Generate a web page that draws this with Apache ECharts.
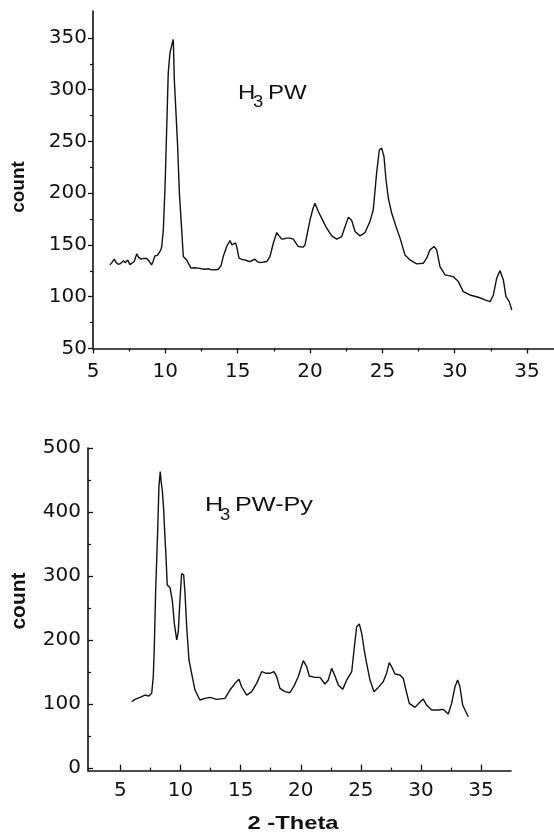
<!DOCTYPE html>
<html><head><meta charset="utf-8">
<script src="https://cdn.jsdelivr.net/npm/echarts@6/dist/echarts.min.js"></script>
<style>html,body{margin:0;padding:0;background:#fff}#c{width:554px;height:834px}</style>
</head><body><div id="c"></div>
<script>
// ---- H3PW (top panel) ----
const topTheta = [6.17,6.3,6.47,6.6,6.75,6.9,7.1,7.25,7.4,7.55,7.67,7.85,8.02,8.15,8.32,8.5,8.71,8.9,9.05,9.15,9.28,9.45,9.56,9.68,9.75,9.86,9.98,10.09,10.2,10.32,10.48,10.55,10.62,10.72,10.85,10.97,11.13,11.24,11.47,11.77,12.0,12.28,12.5,12.74,13.0,13.2,13.45,13.66,13.85,14.0,14.24,14.47,14.6,14.7,14.85,14.93,15.09,15.3,15.5,15.7,15.85,16.0,16.19,16.35,16.54,16.8,17.0,17.23,17.46,17.7,17.85,18.04,18.2,18.39,18.61,18.84,18.96,19.19,19.31,19.53,19.65,20.0,20.2,20.34,20.57,20.92,21.15,21.5,21.84,22.19,22.42,22.65,22.88,23.11,23.45,23.8,24.14,24.37,24.6,24.79,24.95,25.11,25.25,25.41,25.64,25.94,26.22,26.56,26.91,27.37,27.83,28.06,28.29,28.57,28.75,28.98,29.33,29.9,30.25,30.59,31.05,31.63,32.09,32.44,32.67,32.9,33.13,33.36,33.54,33.77,33.94];
const topCount = [130.8,133,136.3,133,131.4,132,134.6,133,135.6,131,129.1,134,141.4,138,136.3,137,136.9,134,130.8,134,139.5,140,141.4,145,148.5,164.6,206.5,261.3,316.2,335.5,345.2,348.4,309.7,308,245.2,200.1,164.6,138.8,135.6,127.6,128,127.6,127,126.6,127,125.9,126,126.6,130,138.8,148.5,154.3,150,149.1,152,148.5,137.2,136,135.6,134.5,134,135,136.3,134,133,133.5,134,138.8,151.7,162,159,155.6,156,156.6,156.6,155.6,155,148.5,147.9,147.9,150.1,174.3,185,190.4,182.3,172.6,166.2,158.8,155.6,158.1,167.8,176.9,173.6,163,158.8,162,172.6,184,219.4,242,243.6,235.5,213,195.3,180.8,167.8,156.6,140.4,135.6,131.7,132.4,137.2,145.3,148.5,145.3,129.1,121.1,119.4,114.6,104.9,101.7,99.5,96.9,95.3,101.7,117.9,125.2,116.2,100.1,95.3,87.2];

// ---- H3PW-Py (bottom panel) ----
const botTheta = [5.93,6.21,6.62,7.04,7.37,7.6,7.73,7.81,7.93,8.09,8.2,8.31,8.4,8.48,8.59,8.7,8.79,8.89,9.0,9.12,9.31,9.48,9.68,9.81,9.95,10.09,10.26,10.37,10.51,10.7,10.92,11.2,11.61,12.03,12.45,13.0,13.69,14.11,14.53,14.86,15.08,15.5,15.92,16.33,16.75,17.16,17.44,17.77,18.0,18.27,18.69,19.1,19.43,19.79,20.21,20.49,20.71,21.18,21.6,22.01,22.29,22.57,22.85,23.12,23.49,23.82,24.24,24.43,24.65,24.87,25.07,25.28,25.48,25.76,26.09,26.45,26.86,27.14,27.36,27.56,27.84,28.25,28.53,28.75,29.03,29.5,29.86,30.19,30.47,30.89,31.44,31.85,32.27,32.55,32.83,33.05,33.24,33.47,33.66,33.94];
const botCount = [103.6,107.3,110.4,114,112.5,116.7,142.7,184,278,366.7,439.6,463,445,434,405.7,361.5,330,286,283,282,262.5,226,200,213,262.5,304,301.6,273,220.8,168.8,148,121.9,106.3,108.9,110.4,107.3,108.9,121.9,132.3,138.6,127,114,119.3,132.3,150.5,148,148,150.5,142.7,124.5,119.3,117.7,128,142.7,167.7,158.3,143.8,141.7,141.7,131.3,137.5,155.7,143.8,129.7,122.9,137.5,150.5,184.4,220.8,225,210.4,184.4,163.5,137.5,119.3,126,134.9,148,164.6,158.3,146.9,145.3,140,121.9,101,94.8,102,107.8,98.4,90.6,90.6,91.7,84.4,101,127,137.5,127,98.4,90.6,80.2];

// ---- tick values ----
const topXTicks = [5,10,15,20,25,30,35];
const topXMinor = [7.5,12.5,17.5,22.5,27.5,32.5];
const topYTicks = [50,100,150,200,250,300,350];
const topYMinor = [75,125,175,225,275,325];
const botXTicks = [5,10,15,20,25,30,35];
const botXMinor = [7.5,12.5,17.5,22.5,27.5,32.5,37.5];
const botYTicks = [0,100,200,300,400,500];
const botYMinor = [50,150,250,350,450];

const INK = '#111';
const labelFont = {color: INK, fontFamily: 'DejaVu Sans', fontSize: 20};

function pairs(xs, ys) { return xs.map((x, i) => [x, ys[i]]); }

function mainAxis(grid, pos, min, max, ticks, len, inside, margin) {
  return {
    type: 'value', gridIndex: grid, position: pos, min: min, max: max,
    axisLine: {show: true, onZero: false, lineStyle: {color: INK, width: 1.6}},
    axisTick: {show: true, customValues: ticks, length: len, inside: inside, lineStyle: {color: INK, width: 1.3}},
    axisLabel: Object.assign({show: true, customValues: ticks, margin: margin}, labelFont),
    splitLine: {show: false}
  };
}
function minorAxis(grid, pos, min, max, ticks, len, inside) {
  return {
    type: 'value', gridIndex: grid, position: pos, min: min, max: max,
    axisLine: {show: false, onZero: false},
    axisTick: {show: true, customValues: ticks, length: len, inside: inside, lineStyle: {color: INK, width: 1.2}},
    axisLabel: {show: false},
    splitLine: {show: false}
  };
}

const chart = echarts.init(document.getElementById('c'), null, {renderer: 'canvas'});
chart.setOption({
  animation: false,
  backgroundColor: '#fff',
  grid: [
    {left: 93, top: 11, width: 461, height: 337.5},
    {left: 88, top: 448, width: 423, height: 322.6}
  ],
  xAxis: [
    mainAxis(0, 'bottom', 5, 36.86, topXTicks, 5, false, 13),
    minorAxis(0, 'bottom', 5, 36.86, topXMinor, 3, false),
    mainAxis(1, 'bottom', 2.3, 37.49, botXTicks, 6, true, 10),
    minorAxis(1, 'bottom', 2.3, 37.49, botXMinor, 3, true)
  ],
  yAxis: [
    mainAxis(0, 'left', 50, 376, topYTicks, 5, false, 6),
    minorAxis(0, 'left', 50, 376, topYMinor, 3, false),
    mainAxis(1, 'left', -4, 500, botYTicks, 5, true, 7),
    minorAxis(1, 'left', -4, 500, botYMinor, 3, true)
  ],
  series: [
    {type: 'line', xAxisIndex: 0, yAxisIndex: 0, data: pairs(topTheta, topCount),
     showSymbol: false, lineStyle: {color: INK, width: 1.4}},
    {type: 'line', xAxisIndex: 2, yAxisIndex: 2, data: pairs(botTheta, botCount),
     showSymbol: false, lineStyle: {color: INK, width: 1.4}}
  ],
  graphic: [
    {type: 'text', x: 238, y: 93, scaleX: 1.2, style: {text: 'H', font: '20px "Liberation Sans"', fill: INK, verticalAlign: 'middle'}},
    {type: 'text', x: 253, y: 103, scaleX: 1.15, style: {text: '3', font: '16px "Liberation Sans"', fill: INK, verticalAlign: 'middle'}},
    {type: 'text', x: 268, y: 93, scaleX: 1.2, style: {text: 'PW', font: '20px "Liberation Sans"', fill: INK, verticalAlign: 'middle'}},
    {type: 'text', x: 205, y: 505, scaleX: 1.2, style: {text: 'H', font: '21px "Liberation Sans"', fill: INK, verticalAlign: 'middle'}},
    {type: 'text', x: 220, y: 516, scaleX: 1.15, style: {text: '3', font: '16px "Liberation Sans"', fill: INK, verticalAlign: 'middle'}},
    {type: 'text', x: 235, y: 505, scaleX: 1.2, style: {text: 'PW-Py', font: '21px "Liberation Sans"', fill: INK, verticalAlign: 'middle'}},
    {type: 'text', x: 19, y: 187, rotation: Math.PI / 2, style: {text: 'count', font: 'bold 19px "Liberation Sans"', fill: INK, align: 'center', verticalAlign: 'middle'}},
    {type: 'text', x: 19, y: 601, rotation: Math.PI / 2, style: {text: 'count', font: 'bold 21px "Liberation Sans"', fill: INK, align: 'center', verticalAlign: 'middle'}},
    {type: 'text', x: 293, y: 824, scaleX: 1.25, style: {text: '2 -Theta', font: 'bold 19px "Liberation Sans"', fill: INK, align: 'center', verticalAlign: 'middle'}}
  ]
});
</script>
</body></html>
